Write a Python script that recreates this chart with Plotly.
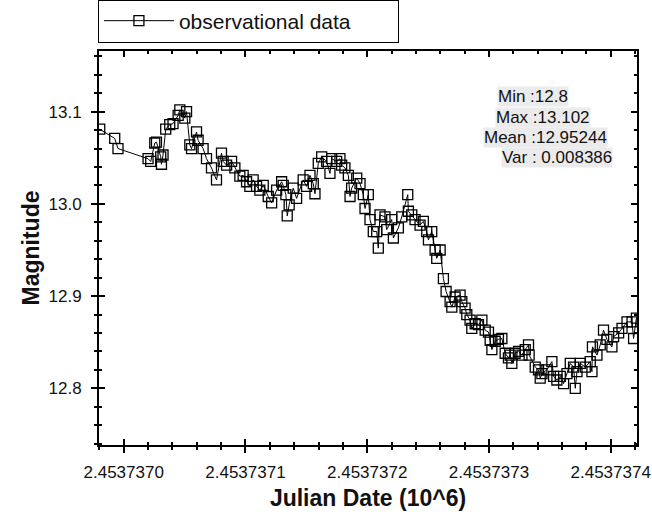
import plotly.graph_objects as go

# Time offsets (days after JD 2453737.0) and magnitudes
jd_base = 2453737.0
t_days = [
    -0.0197, -0.0074, -0.0047, 0.0200, 0.0222, 0.0255, 0.0269, 0.0304, 0.0310, 0.0323,
    0.0345, 0.0378, 0.0405, 0.0447, 0.0461, 0.0502, 0.0516, 0.0543, 0.0557, 0.0598,
    0.0611, 0.0652, 0.0680, 0.0721, 0.0762, 0.0803, 0.0817, 0.0845, 0.0886, 0.0913,
    0.0954, 0.0981, 0.1009, 0.1036, 0.1063, 0.1091, 0.1118, 0.1146, 0.1187, 0.1215,
    0.1256, 0.1297, 0.1310, 0.1332, 0.1343, 0.1359, 0.1392, 0.1420, 0.1474, 0.1502,
    0.1530, 0.1557, 0.1571, 0.1598, 0.1626, 0.1667, 0.1694, 0.1708, 0.1749, 0.1776,
    0.1790, 0.1817, 0.1845, 0.1859, 0.1872, 0.1914, 0.1941, 0.1968, 0.1982, 0.2009,
    0.2023, 0.2050, 0.2078, 0.2091, 0.2105, 0.2146, 0.2160, 0.2201, 0.2215, 0.2256,
    0.2284, 0.2333, 0.2338, 0.2366, 0.2393, 0.2434, 0.2461, 0.2489, 0.2503, 0.2530,
    0.2558, 0.2571, 0.2599, 0.2626, 0.2648, 0.2681, 0.2695, 0.2722, 0.2763, 0.2777,
    0.2804, 0.2818, 0.2845, 0.2859, 0.2887, 0.2914, 0.2942, 0.2969, 0.2996, 0.3010,
    0.3024, 0.3051, 0.3078, 0.3106, 0.3133, 0.3160, 0.3174, 0.3188, 0.3215, 0.3243,
    0.3271, 0.3298, 0.3325, 0.3330, 0.3380, 0.3407, 0.3421, 0.3435, 0.3476, 0.3517,
    0.3531, 0.3558, 0.3586, 0.3613, 0.3641, 0.3668, 0.3695, 0.3709, 0.3723, 0.3750,
    0.3791, 0.3832, 0.3846, 0.3850, 0.3887, 0.3914, 0.3941, 0.3969, 0.4010, 0.4024,
    0.4065, 0.4093, 0.4134, 0.4175, 0.4188, 0.4211,
]
magnitude = [
    13.081, 13.071, 13.060, 13.049, 13.046, 13.066, 13.067, 13.051, 13.043, 13.053,
    13.081, 13.086, 13.087, 13.096, 13.102, 13.093, 13.100, 13.064, 13.060, 13.078,
    13.069, 13.060, 13.049, 13.039, 13.026, 13.055, 13.046, 13.042, 13.046, 13.039,
    13.030, 13.031, 13.024, 13.019, 13.026, 13.019, 13.015, 13.020, 13.008, 13.001,
    13.015, 13.024, 13.020, 13.010, 12.987, 12.999, 13.017, 13.006, 13.026, 13.019,
    13.031, 13.022, 13.011, 13.044, 13.051, 13.046, 13.033, 13.049, 13.046, 13.049,
    13.042, 13.039, 13.031, 13.008, 13.017, 13.028, 13.022, 13.010, 12.995, 13.010,
    12.983, 12.970, 12.970, 12.952, 12.988, 12.986, 12.972, 12.983, 12.963, 12.974,
    12.986, 13.010, 12.992, 12.988, 12.983, 12.977, 12.981, 12.970, 12.961, 12.970,
    12.950, 12.941, 12.950, 12.919, 12.905, 12.894, 12.888, 12.899, 12.901, 12.894,
    12.887, 12.880, 12.874, 12.865, 12.870, 12.869, 12.874, 12.863, 12.861, 12.852,
    12.842, 12.851, 12.853, 12.854, 12.838, 12.833, 12.836, 12.827, 12.838, 12.840,
    12.836, 12.842, 12.847, 12.836, 12.823, 12.820, 12.811, 12.816, 12.820, 12.829,
    12.813, 12.809, 12.813, 12.805, 12.816, 12.827, 12.823, 12.800, 12.818, 12.827,
    12.823, 12.829, 12.818, 12.845, 12.836, 12.847, 12.863, 12.853, 12.845, 12.856,
    12.860, 12.865, 12.872, 12.872, 12.854, 12.876,
]

stats_lines = ["Min :12.8", "Max :13.102", "Mean :12.95244", "Var : 0.008386"]
x_ticks_days = [0.0, 0.1, 0.2, 0.3, 0.4]
y_ticks = [12.8, 12.9, 13.0, 13.1]

x_vals = [(jd_base + t) / 1e6 for t in t_days]
x_range = [(jd_base - 0.0203) / 1e6, (jd_base + 0.4216) / 1e6]
y_range = [12.7385, 13.1658]
x_tickvals = [(jd_base + d) / 1e6 for d in x_ticks_days]

font_family = "Arial, 'Liberation Sans', sans-serif"

fig = go.Figure()
fig.add_trace(go.Scatter(
    x=x_vals, y=magnitude, mode="lines+markers", name="observational data",
    line=dict(color="black", width=1),
    marker=dict(symbol="square-open", size=10, color="black", line=dict(width=1.3, color="black")),
))
# helper trace so the overlay axes (inner tick marks) are drawn
fig.add_trace(go.Scatter(
    x=x_vals[:1], y=magnitude[:1], xaxis="x2", yaxis="y2", mode="markers",
    marker=dict(opacity=0), showlegend=False, hoverinfo="skip",
))

common_x = dict(range=x_range, tickmode="linear", tick0=x_tickvals[0], dtick=1e-7,
                showgrid=False, zeroline=False, automargin=False)
common_y = dict(range=y_range, tickmode="linear", tick0=y_ticks[0], dtick=0.1,
                showgrid=False, zeroline=False, automargin=False)

fig.update_layout(
    width=652, height=516,
    margin=dict(l=99, r=15, t=51, b=71, autoexpand=False),
    paper_bgcolor="white", plot_bgcolor="white",
    font=dict(family=font_family, color="#111"),
    showlegend=True,
    legend=dict(
        x=-0.002, y=1.0761, xanchor="left", yanchor="middle",
        orientation="h", itemwidth=70, entrywidth=214,
        bordercolor="black", borderwidth=1, bgcolor="white",
        font=dict(size=21, family=font_family, color="#111"),
    ),
    xaxis=dict(
        **common_x, tickformat=".7f",
        ticks="outside", ticklen=6, tickwidth=1.5, tickcolor="black",
        showline=True, linewidth=2, linecolor="black", mirror=True,
        tickfont=dict(size=17), ticklabelstandoff=5,
        minor=dict(ticks="outside", ticklen=3, tickwidth=1.5, tickcolor="black", dtick=2e-8, showgrid=False),
        title=dict(text="<b>Julian Date (10^6)</b>", font=dict(size=23), standoff=8),
    ),
    yaxis=dict(
        **common_y, tickformat=".1f",
        ticks="outside", ticklen=6, tickwidth=1.5, tickcolor="black",
        showline=True, linewidth=2, linecolor="black", mirror=True,
        tickfont=dict(size=17), ticklabelstandoff=6,
        minor=dict(ticks="outside", ticklen=3, tickwidth=1.5, tickcolor="black", dtick=0.02, showgrid=False),
        title=dict(text="<b>Magnitude</b>", font=dict(size=23), standoff=2),
    ),
    xaxis2=dict(
        **common_x, overlaying="x", side="bottom", anchor="y2",
        ticks="inside", ticklen=6, tickwidth=1.5, tickcolor="black", mirror="ticks",
        showline=False, showticklabels=False,
        minor=dict(ticks="inside", ticklen=3, tickwidth=1.5, tickcolor="black", dtick=2e-8, showgrid=False),
    ),
    yaxis2=dict(
        **common_y, overlaying="y", side="left", anchor="x2",
        ticks="inside", ticklen=6, tickwidth=1.5, tickcolor="black", mirror="ticks",
        showline=False, showticklabels=False,
        minor=dict(ticks="inside", ticklen=3, tickwidth=1.5, tickcolor="black", dtick=0.02, showgrid=False),
    ),
)

stat_pos = [(0.7398, 0.884), (0.736, 0.8312), (0.7138, 0.7805), (0.7472, 0.7297)]
for txt, (ax, ay) in zip(stats_lines, stat_pos):
    fig.add_annotation(
        text=txt, xref="paper", yref="paper", x=ax, y=ay,
        xanchor="left", yanchor="middle", showarrow=False,
        font=dict(size=17, family=font_family, color="#111"),
        bgcolor="#ebebeb", borderpad=0,
    )

fig.write_html("out.html")
